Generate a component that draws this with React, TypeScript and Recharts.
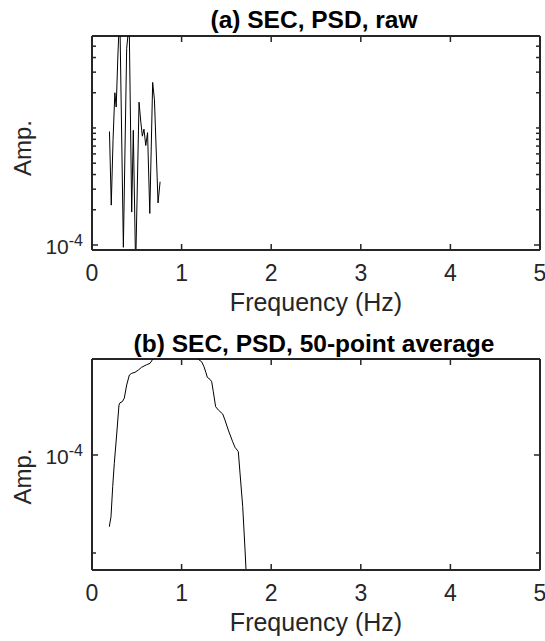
import React from 'react';
import { LineChart, Line, XAxis, YAxis, ReferenceLine, Label } from 'recharts';

// ---------- data ----------
const FREQ_A = [0.195, 0.215, 0.235, 0.255, 0.27, 0.29, 0.31, 0.35, 0.387, 0.415, 0.443, 0.461, 0.487, 0.525, 0.545, 0.562, 0.58, 0.6, 0.62, 0.645, 0.677, 0.697, 0.737, 0.76];
const AMP_A = [9.33e-4, 2.19e-4, 7.94e-4, 2.0e-3, 1.51e-3, 4.37e-3, 1.0e-2, 9.55e-5, 4.79e-3, 7.94e-3, 1.91e-4, 9.55e-4, 6.31e-5, 1.66e-3, 1.12e-3, 8.51e-4, 9.77e-4, 7.08e-4, 9.12e-4, 1.86e-4, 2.45e-3, 1.74e-3, 2.29e-4, 3.47e-4];

const FREQ_B = [0.193, 0.212, 0.231, 0.249, 0.275, 0.301, 0.3125, 0.338, 0.36, 0.387, 0.417, 0.443, 0.48, 0.517, 0.554, 0.61, 0.647, 0.677, 0.75, 0.85, 0.95, 1.05, 1.15, 1.187, 1.224, 1.25, 1.272, 1.287, 1.317, 1.336, 1.354, 1.38, 1.41, 1.459, 1.484, 1.521, 1.57, 1.596, 1.633, 1.652, 1.682, 1.708, 1.719, 1.74];
const AMP_B = [6.02e-5, 6.46e-5, 7.99e-5, 9.43e-5, 1.152e-4, 1.424e-4, 1.447e-4, 1.458e-4, 1.494e-4, 1.641e-4, 1.761e-4, 1.782e-4, 1.795e-4, 1.824e-4, 1.86e-4, 1.894e-4, 1.912e-4, 1.967e-4, 2.09e-4, 2.24e-4, 2.29e-4, 2.24e-4, 2.04e-4, 1.967e-4, 1.934e-4, 1.867e-4, 1.79e-4, 1.732e-4, 1.708e-4, 1.679e-4, 1.564e-4, 1.407e-4, 1.375e-4, 1.336e-4, 1.281e-4, 1.193e-4, 1.098e-4, 1.056e-4, 1.024e-4, 8.79e-5, 6.94e-5, 5.11e-5, 4.43e-5, 3.55e-5];

const X_TICKS = [0, 1, 2, 3, 4, 5];
const X_DOMAIN = [0, 5];
const A_Y_DOMAIN = [9.06e-5, 6.11e-3];
const A_Y_TICKS = [1e-4, 2e-4, 3e-4, 4e-4, 5e-4, 6e-4, 7e-4, 8e-4, 9e-4, 1e-3, 2e-3, 3e-3, 4e-3, 5e-3];
const B_Y_DOMAIN = [4.433e-5, 1.972e-4];
const B_Y_TICKS = [5e-5, 1e-4];
const LABELED_TICK = 1e-4;
const LABELED_BASE = '10';
const LABELED_EXP = '-4';

const TITLE_A = '(a) SEC, PSD, raw';
const TITLE_B = '(b) SEC, PSD, 50-point average';
const X_LABEL = 'Frequency (Hz)';
const Y_LABEL = 'Amp.';

// ---------- styles ----------
const FONT = '"Liberation Sans", Arial, Helvetica, sans-serif';
const AXIS_COLOR = '#262626';
const W = 545;
const Y_AXIS_W = 92;
const RIGHT_M = 5;
const PLOT_W = W - Y_AXIS_W - RIGHT_M;

const dataA = FREQ_A.map((f, i) => ({ f, v: AMP_A[i] }));
const dataB = FREQ_B.map((f, i) => ({ f, v: AMP_B[i] }));

function makeXTick(plotH: number) {
  return (props: any) => {
    const { x, y, payload } = props;
    return (
      <g>
        <line x1={x} x2={x} y1={y} y2={y - 6} stroke={AXIS_COLOR} strokeWidth={1.5} />
        <line x1={x} x2={x} y1={y - plotH} y2={y - plotH + 6} stroke={AXIS_COLOR} strokeWidth={1.5} />
        <text x={x} y={y + 31} textAnchor="middle" fontFamily={FONT} fontSize={23} fill={AXIS_COLOR}>
          {payload.value}
        </text>
      </g>
    );
  };
}

function makeYTick() {
  return (props: any) => {
    const { x, y, payload } = props;
    const major = Math.abs(payload.value - LABELED_TICK) < 1e-12;
    const len = major ? 6 : 4;
    return (
      <g>
        <line x1={x} x2={x + len} y1={y} y2={y} stroke={AXIS_COLOR} strokeWidth={1.5} />
        <line x1={x + PLOT_W} x2={x + PLOT_W - len} y1={y} y2={y} stroke={AXIS_COLOR} strokeWidth={1.5} />
        {major && (
          <text x={x - 9} y={y + 9} textAnchor="end" fontFamily={FONT} fontSize={21} fill={AXIS_COLOR}>
            {LABELED_BASE}
            <tspan dy={-8} fontSize={16}>{LABELED_EXP}</tspan>
          </text>
        )}
      </g>
    );
  };
}

function xLabelContent(props: any) {
  const vb = props.viewBox || {};
  const cx = vb.x + vb.width / 2;
  const cy = vb.y + 61;
  return (
    <text x={cx} y={cy} textAnchor="middle" fontFamily={FONT} fontSize={25} fill={AXIS_COLOR}>
      {X_LABEL}
    </text>
  );
}

function makeYLabel(shift: number) {
  return (props: any) => {
    const vb = props.viewBox || {};
    const cy = vb.y + vb.height / 2 + shift;
    const cx = 31;
    return (
      <text x={cx} y={cy} textAnchor="middle" transform={`rotate(-90, ${cx}, ${cy})`} fontFamily={FONT} fontSize={24} fill={AXIS_COLOR}>
        {Y_LABEL}
      </text>
    );
  };
}

type PanelProps = {
  data: { f: number; v: number }[];
  height: number;
  top: number;
  xAxisH: number;
  yDomain: number[];
  yTicks: number[];
  yLabelShift: number;
};

function Panel({ data, height, top, xAxisH, yDomain, yTicks, yLabelShift }: PanelProps) {
  const plotH = height - top - xAxisH;
  return (
    <LineChart width={W} height={height} data={data} margin={{ top, right: RIGHT_M, bottom: 0, left: 0 }}>
      <XAxis
        dataKey="f"
        type="number"
        domain={X_DOMAIN}
        ticks={X_TICKS}
        interval={0}
        allowDataOverflow
        height={xAxisH}
        tickSize={0}
        tickMargin={0}
        tickLine={false}
        axisLine={{ stroke: AXIS_COLOR, strokeWidth: 2 }}
        tick={makeXTick(plotH)}
        label={<Label content={xLabelContent} />}
      />
      <YAxis
        type="number"
        scale="log"
        domain={yDomain}
        ticks={yTicks}
        interval={0}
        allowDataOverflow
        width={Y_AXIS_W}
        tickSize={0}
        tickMargin={0}
        tickLine={false}
        axisLine={{ stroke: AXIS_COLOR, strokeWidth: 2 }}
        tick={makeYTick()}
        label={<Label content={makeYLabel(yLabelShift)} />}
      />
      <ReferenceLine x={X_DOMAIN[1]} stroke={AXIS_COLOR} strokeWidth={2} />
      <ReferenceLine y={yDomain[1]} stroke={AXIS_COLOR} strokeWidth={2} />
      <Line type="linear" dataKey="v" stroke="#000000" strokeWidth={1} dot={false} isAnimationActive={false} />
    </LineChart>
  );
}

export default function App() {
  return (
    <div style={{ position: 'absolute', left: 0, top: 0, width: W, height: 641, background: '#ffffff' }}>
      <div style={{ position: 'absolute', left: 0, top: 0 }}>
        <Panel data={dataA} height={320} top={36} xAxisH={70} yDomain={A_Y_DOMAIN} yTicks={A_Y_TICKS} yLabelShift={5} />
      </div>
      <div style={{ position: 'absolute', left: 0, top: 320 }}>
        <Panel data={dataB} height={321} top={39} xAxisH={71} yDomain={B_Y_DOMAIN} yTicks={B_Y_TICKS} yLabelShift={12} />
      </div>
      <svg width={W} height={641} style={{ position: 'absolute', left: 0, top: 0, pointerEvents: 'none' }}>
        <text x={314} y={28} textAnchor="middle" fontFamily={FONT} fontSize={24.5} fontWeight="bold" fill="#000000">
          {TITLE_A}
        </text>
        <text x={314} y={351.5} textAnchor="middle" fontFamily={FONT} fontSize={24.5} fontWeight="bold" fill="#000000">
          {TITLE_B}
        </text>
      </svg>
    </div>
  );
}
